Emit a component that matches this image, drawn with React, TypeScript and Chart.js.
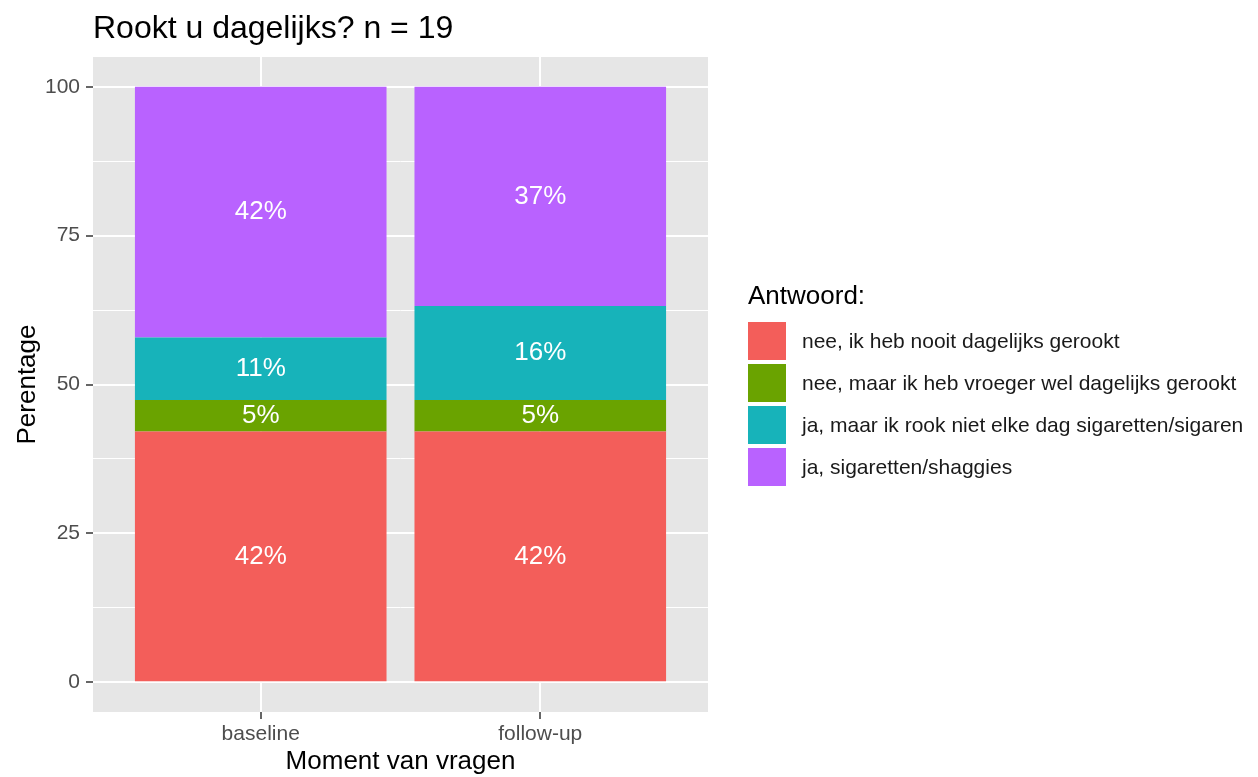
import React, { useEffect, useRef } from "react";
import { Chart, registerables } from "chart.js";

Chart.register(...registerables);

const chartTitle = "Rookt u dagelijks? n = 19";
const xAxisTitle = "Moment van vragen";
const yAxisTitle = "Perentage";
const legendTitle = "Antwoord:";

const categories = ["baseline", "follow-up"];
const answers = [
  "nee, ik heb nooit dagelijks gerookt",
  "nee, maar ik heb vroeger wel dagelijks gerookt",
  "ja, maar ik rook niet elke dag sigaretten/sigaren",
  "ja, sigaretten/shaggies",
];
const neverValues = [42.1, 42.1];
const formerValues = [5.3, 5.3];
const occasionalValues = [10.5, 15.8];
const dailyValues = [42.1, 36.8];
const seriesValues = [neverValues, formerValues, occasionalValues, dailyValues];

const yMajorTicks = [0, 25, 50, 75, 100];
const yMinorTicks = [12.5, 37.5, 62.5, 87.5];

const colors = ["#F35E5A", "#6AA300", "#17B3BA", "#B962FF"];
const FONT = "'Liberation Sans', Arial, Helvetica, sans-serif";

const panelBg = {
  id: "panelBg",
  beforeDraw(chart: any) {
    const { ctx, chartArea } = chart;
    ctx.save();
    ctx.fillStyle = "#E6E6E6";
    ctx.fillRect(chartArea.left, chartArea.top, chartArea.right - chartArea.left, chartArea.bottom - chartArea.top);
    ctx.restore();
  },
};

const barLabels = {
  id: "barLabels",
  afterDatasetsDraw(chart: any) {
    const { ctx } = chart;
    ctx.save();
    ctx.fillStyle = "#FFFFFF";
    ctx.font = `26px ${FONT}`;
    ctx.textAlign = "center";
    ctx.textBaseline = "middle";
    chart.data.datasets.forEach((ds: any, di: number) => {
      const meta = chart.getDatasetMeta(di);
      meta.data.forEach((el: any, i: number) => {
        const v = ds.data[i].y;
        ctx.fillText(`${Math.round(v)}%`, el.x, (el.y + el.base) / 2);
      });
    });
    ctx.restore();
  },
};

const titleLegend = {
  id: "titleLegend",
  afterDraw(chart: any) {
    const { ctx, chartArea } = chart;
    ctx.save();
    ctx.fillStyle = "#000000";
    ctx.font = `32px ${FONT}`;
    ctx.textAlign = "left";
    ctx.textBaseline = "alphabetic";
    ctx.fillText(chartTitle, chartArea.left, 38);

    const lx = chartArea.right + 40;
    ctx.font = `26px ${FONT}`;
    ctx.fillText(legendTitle, lx, 304);
    ctx.font = `21px ${FONT}`;
    ctx.textBaseline = "middle";
    chart.data.datasets.forEach((ds: any, i: number) => {
      const top = 322 + i * 42;
      ctx.fillStyle = ds.backgroundColor;
      ctx.fillRect(lx, top, 38, 38);
      ctx.fillStyle = "#1A1A1A";
      ctx.fillText(ds.label, lx + 54, top + 20);
    });
    ctx.restore();
  },
};

export default function App() {
  const ref = useRef<HTMLCanvasElement>(null);
  useEffect(() => {
    document.body.style.margin = "0";
    const chart = new Chart(ref.current as HTMLCanvasElement, {
      type: "bar",
      data: {
        datasets: answers.map((label, si) => ({
          label,
          data: seriesValues[si].map((v, i) => ({ x: i + 1, y: v })),
          backgroundColor: colors[si],
          borderWidth: 0,
          barPercentage: 0.9,
          categoryPercentage: 1,
        })),
      },
      options: {
        animation: false,
        responsive: false,
        layout: { padding: { top: 57, right: 550, left: 0, bottom: 0 } },
        plugins: { legend: { display: false }, tooltip: { enabled: false }, title: { display: false } },
        scales: {
          x: {
            type: "linear",
            stacked: true,
            offset: false,
            min: 0.4,
            max: 2.6,
            afterBuildTicks: (scale: any) => {
              scale.ticks = categories.map((_, i) => ({ value: i + 1 }));
            },
            afterFit: (scale: any) => {
              scale.height = 65;
            },
            ticks: {
              callback: (v: any) => categories[Math.round(v) - 1] ?? "",
              color: "#4D4D4D",
              font: { family: FONT, size: 21 },
              padding: 3,
              maxRotation: 0,
              autoSkip: false,
            },
            grid: {
              offset: false,
              color: "#FFFFFF",
              lineWidth: 2,
              tickLength: 7,
              tickColor: "#333333",
              tickWidth: 1.5,
            },
            border: { display: false },
            title: {
              display: true,
              text: xAxisTitle,
              color: "#000000",
              font: { family: FONT, size: 26, lineHeight: 1.2 },
              padding: { top: 0, bottom: 0 },
            },
          },
          y: {
            stacked: true,
            min: -5,
            max: 105,
            afterBuildTicks: (scale: any) => {
              scale.ticks = [...yMajorTicks, ...yMinorTicks].sort((a, b) => a - b).map((v) => ({ value: v }));
            },
            afterFit: (scale: any) => {
              scale.width = 93;
            },
            ticks: {
              callback: (v: any) => (yMajorTicks.includes(v) ? String(v) : ""),
              color: "#4D4D4D",
              font: { family: FONT, size: 21 },
              padding: 6,
              autoSkip: false,
            },
            grid: {
              color: "#FFFFFF",
              lineWidth: (c: any) => (yMajorTicks.includes(c.tick?.value) ? 2 : 1),
              tickLength: 7,
              tickColor: (c: any) => (yMajorTicks.includes(c.tick?.value) ? "#333333" : "rgba(0,0,0,0)"),
              tickWidth: 1.5,
            },
            border: { display: false },
            title: {
              display: true,
              text: yAxisTitle,
              color: "#000000",
              font: { family: FONT, size: 26, lineHeight: 1.2 },
              padding: { top: 12, bottom: 0 },
            },
          },
        },
      },
      plugins: [panelBg, barLabels, titleLegend],
    } as any);
    return () => chart.destroy();
  }, []);
  return <canvas ref={ref} width={1258} height={777} style={{ display: "block", width: 1258, height: 777 }} />;
}
